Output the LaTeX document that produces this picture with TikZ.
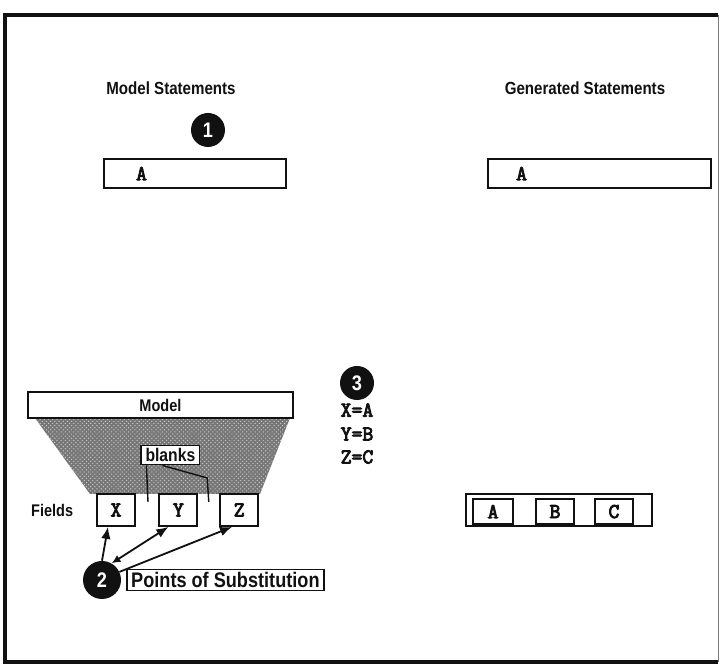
\documentclass[tikz,border=0pt]{standalone}
\usepackage{fontspec}
\setsansfont{Liberation Sans}[FakeStretch=0.86]
\newfontfamily\typefont{Latin Modern Mono}[FakeBold=4]
\usetikzlibrary{arrows.meta,positioning,patterns}
\definecolor{ink}{HTML}{111111}
\definecolor{stipple}{HTML}{767676}

\tikzset{
  lbl/.style={font=\sffamily\bfseries\fontsize{12}{14}\selectfont, text=ink},
  num/.style={circle, fill=ink, text=white, minimum size=0.85cm, inner sep=0pt,
    font=\sffamily\bfseries\fontsize{15}{16}\selectfont},
  mono/.style={font=\typefont\fontsize{15}{17}\selectfont, text=ink},
  stmtbox/.style={draw=ink, line width=1.3pt, minimum height=0.72cm, inner sep=0pt},
  fieldbox/.style={draw=ink, line width=1.3pt, fill=white, minimum width=0.95cm,
    minimum height=0.8cm, inner sep=0pt, mono},
  tagbox/.style={draw=ink, line width=1.3pt, fill=white, inner xsep=3pt, inner ysep=2pt, lbl},
  subarrow/.style={-{Latex[length=3mm,width=2.4mm]}, line width=1.3pt, draw=ink},
}

\begin{document}
\begin{tikzpicture}
  \useasboundingbox (0,0) rectangle (18,16.65);
  % frame
  \draw[ink, line width=3pt] (17.95,16.28) -- (0.13,16.28) -- (0.13,0.1) -- (17.95,0.1);
  \draw[ink!55, line width=0.6pt] (17.95,0.1) -- (17.95,16.28);

  % headings
  \node[lbl, font=\sffamily\bfseries\fontsize{12.5}{14}\selectfont] (mshead) at (4.275,14.45) {Model Statements};
  \node[lbl, font=\sffamily\bfseries\fontsize{12.5}{14}\selectfont] (gshead) at (14.625,14.45) {Generated Statements};
  \node[num] (n1) at (5.2,13.4) {1};

  % statement boxes
  \node[stmtbox, minimum width=4.55cm] (mstmt) at (4.875,12.31) {};
  \node[mono, right=0.7cm of mstmt.west] (mA) {A};
  \node[stmtbox, minimum width=5.575cm] (gstmt) at (14.99,12.31) {};
  \node[mono, right=0.6cm of gstmt.west] (gA) {A};

  % model and its stippled field area
  \fill[stipple] (0.875,6.2) -- (7.25,6.2) -- (6.5,4.3) -- (2.25,4.3) -- cycle;
  \fill[pattern=crosshatch dots, pattern color=white!80!black]
    (0.875,6.2) -- (7.25,6.2) -- (6.5,4.3) -- (2.25,4.3) -- cycle;
  \node[tagbox, minimum width=6.625cm, minimum height=0.65cm] (model) at (4.01,6.525) {Model};
  \node[tagbox, font=\sffamily\bfseries\fontsize{13}{15}\selectfont] (blanks) at (4.26,5.275) {blanks};
  \node[fieldbox] (fx) at (2.9,3.9) {X};
  \node[fieldbox] (fy) at (4.46,3.9) {Y};
  \node[fieldbox] (fz) at (5.98,3.9) {Z};
  \node[lbl, left=0.45cm of fx] (fields) {Fields};

  % leaders from blanks
  \coordinate (gapxy) at (3.7,4.1);
  \coordinate (bend) at (5.18,4.7);
  \coordinate (gapyz) at (5.22,4.1);
  \draw[ink, line width=1pt] ([xshift=-0.6cm]blanks.south) -- (gapxy);
  \draw[ink, line width=1pt] ([xshift=-0.2cm]blanks.south) -- (bend) -- (gapyz);

  % substitution values
  \node[num] (n3) at (8.925,7.075) {3};
  \node[mono] (eqx) at (8.925,6.4) {X=A};
  \node[mono] (eqy) at (8.925,5.8) {Y=B};
  \node[mono] (eqz) at (8.925,5.225) {Z=C};

  % points of substitution
  \node[num, minimum size=0.95cm] (n2) at (2.55,2.15) {2};
  \node[tagbox, right=0.12cm of n2, font=\sffamily\bfseries\fontsize{15}{17}\selectfont] (points) {Points of Substitution};
  \draw[subarrow] (n2.north) -- ([xshift=-0.2cm]fx.south);
  \draw[subarrow, {Latex[length=2.2mm,width=2mm]}-{Latex[length=3mm,width=2.4mm]}]
    (n2.60) -- ([xshift=-0.25cm]fy.south);
  \draw[subarrow] (n2.25) -- ([xshift=-0.18cm]fz.south);

  % generated fields
  \node[stmtbox, minimum width=4.65cm, minimum height=0.8cm] (gfields) at (13.975,3.9) {};
  \node[fieldbox, minimum width=1.0cm, minimum height=0.62cm] (ga) at (12.325,3.86) {A};
  \node[fieldbox, minimum width=0.95cm, minimum height=0.62cm] (gb) at (13.875,3.86) {B};
  \node[fieldbox, minimum width=0.95cm, minimum height=0.62cm] (gc) at (15.35,3.86) {C};
\end{tikzpicture}
\end{document}
